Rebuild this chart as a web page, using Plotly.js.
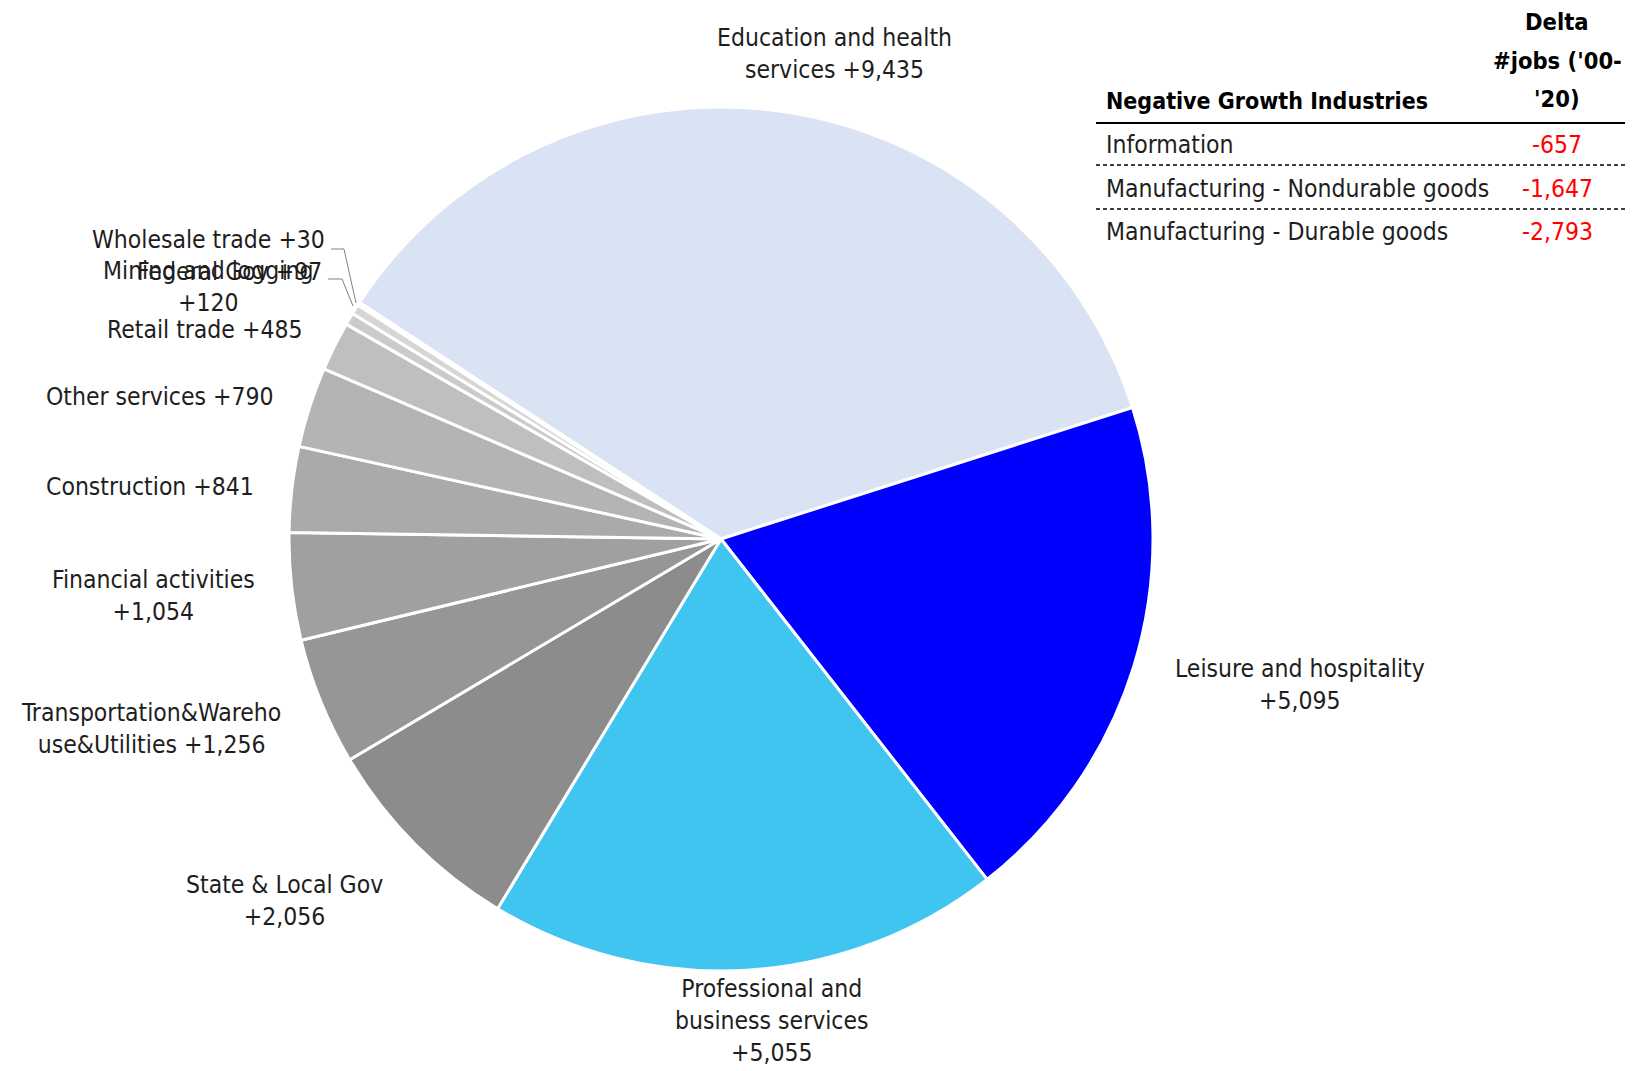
<!DOCTYPE html>
<html>
<head>
<meta charset="utf-8">
<script src="https://cdn.plot.ly/plotly-3.0.1.min.js"></script>
<style>html,body{margin:0;padding:0;background:#fff;}#chart{width:1637px;height:1071px;}</style>
</head>
<body>
<div id="chart"></div>
<script>
// ---- data ----
const categories = ['Education and health services','Leisure and hospitality','Professional and business services','State & Local Gov','Transportation&Warehouse&Utilities','Financial activities','Construction','Other services','Retail trade','Mining and logging','Federal Gov','Wholesale trade'];
const deltaJobs = [9435,5095,5055,2056,1256,1054,841,790,485,120,97,30];
const negIndustries = ['Information','Manufacturing - Nondurable goods','Manufacturing - Durable goods'];
const negDelta = [-657,-1647,-2793];
const tableTitle = 'Negative Growth Industries';
const deltaHeaderLines = ['Delta',"#jobs ('00-","'20)"];

// ---- styles / positions ----
const sliceColors = ['#dae3f3','#0000ff','#40c4f0','#8c8c8c','#969696','#a0a0a0','#aaaaaa','#b4b4b4','#bfbfbf','#cbcbcb','#d6d6d6','#e2e2e2'];
// wrapped display names (line breaks only)
const wrapNames = ['Education and health<br>services','Leisure and hospitality','Professional and<br>business services','State & Local Gov','Transportation&Wareho<br>use&Utilities','Financial activities','Construction','Other services','Retail trade','Mining and logging','Federal Gov','Wholesale trade'];
const wrapSep = [' ','<br>','<br>','<br>',' ','<br>',' ',' ',' ','<br>',' ',' '];
const labelPx = [[835,53],[1300,684],[772,1020],[284,900],[151,728],[153,595],[150,487],[160,396],[205,329],[208,287],[229,271],[209,240]];

const W = 1637, H = 1071;
const px = x => x / W, py = y => 1 - y / H;
const FONT = '"Liberation Sans Narrow", "Arial Narrow", "DejaVu Sans Condensed", sans-serif';
const fmt = v => (v < 0 ? '-' : '+') + Math.abs(v).toLocaleString('en-US');

const cx = 721, cy = 539, R = 432;

const trace = {
  type: 'pie',
  labels: categories,
  values: deltaJobs,
  sort: false,
  direction: 'clockwise',
  rotation: -56.8,
  textinfo: 'none',
  hoverinfo: 'label+value',
  marker: {colors: sliceColors, line: {color: '#ffffff', width: 3}},
  domain: {x: [px(cx - R), px(cx + R)], y: [1 - (cy + R) / H, 1 - (cy - R) / H]},
  showlegend: false
};

const annotations = [];
categories.forEach((c, i) => {
  annotations.push({
    xref: 'paper', yref: 'paper', x: px(labelPx[i][0]), y: py(labelPx[i][1]),
    xanchor: 'center', yanchor: 'middle', showarrow: false, align: 'center',
    text: wrapNames[i] + wrapSep[i] + fmt(deltaJobs[i]),
    font: {family: FONT, size: 24.5, color: '#1e1e1e'}
  });
});

// table
const tabL = 1104, tabC = 1557;
annotations.push({xref:'paper',yref:'paper',x:px(tabL),y:py(101),xanchor:'left',yanchor:'middle',showarrow:false,
  text:'<b>'+tableTitle+'</b>',font:{family:FONT,size:23,color:'#000'}});
const hdrY = [22,61,99];
deltaHeaderLines.forEach((t, i) => {
  annotations.push({xref:'paper',yref:'paper',x:px(tabC),y:py(hdrY[i]),xanchor:'center',yanchor:'middle',showarrow:false,
    text:'<b>'+t+'</b>',font:{family:FONT,size:23.5,color:'#000'}});
});
const rowY = [145,188,231];
negIndustries.forEach((n, i) => {
  annotations.push({xref:'paper',yref:'paper',x:px(tabL),y:py(rowY[i]),xanchor:'left',yanchor:'middle',showarrow:false,
    text:n,font:{family:FONT,size:24.5,color:'#1e1e1e'}});
  annotations.push({xref:'paper',yref:'paper',x:px(tabC),y:py(rowY[i]),xanchor:'center',yanchor:'middle',showarrow:false,
    text:negDelta[i].toLocaleString('en-US'),font:{family:FONT,size:24.5,color:'#ff0000'}});
});

const shapes = [
  {type:'line',xref:'paper',yref:'paper',x0:px(1096),x1:px(1625),y0:py(123),y1:py(123),line:{color:'#000',width:2}},
  {type:'line',xref:'paper',yref:'paper',x0:px(1096),x1:px(1625),y0:py(165),y1:py(165),line:{color:'#000',width:1.5,dash:'4px,3px'}},
  {type:'line',xref:'paper',yref:'paper',x0:px(1096),x1:px(1625),y0:py(209),y1:py(209),line:{color:'#000',width:1.5,dash:'4px,3px'}},
  // leader lines
  {type:'path',xref:'paper',yref:'paper',path:`M ${px(331)} ${py(249)} L ${px(344)} ${py(249)} L ${px(356)} ${py(303)}`,line:{color:'#808080',width:1}},
  {type:'path',xref:'paper',yref:'paper',path:`M ${px(328)} ${py(279)} L ${px(342)} ${py(279)} L ${px(353)} ${py(306)}`,line:{color:'#808080',width:1}}
];

const layout = {
  width: W, height: H,
  margin: {l:0,r:0,t:0,b:0},
  paper_bgcolor: '#fff', plot_bgcolor: '#fff',
  annotations: annotations,
  shapes: shapes,
  font: {family: FONT}
};

Plotly.newPlot('chart', [trace], layout, {displayModeBar: false, staticPlot: true});
</script>
</body>
</html>
